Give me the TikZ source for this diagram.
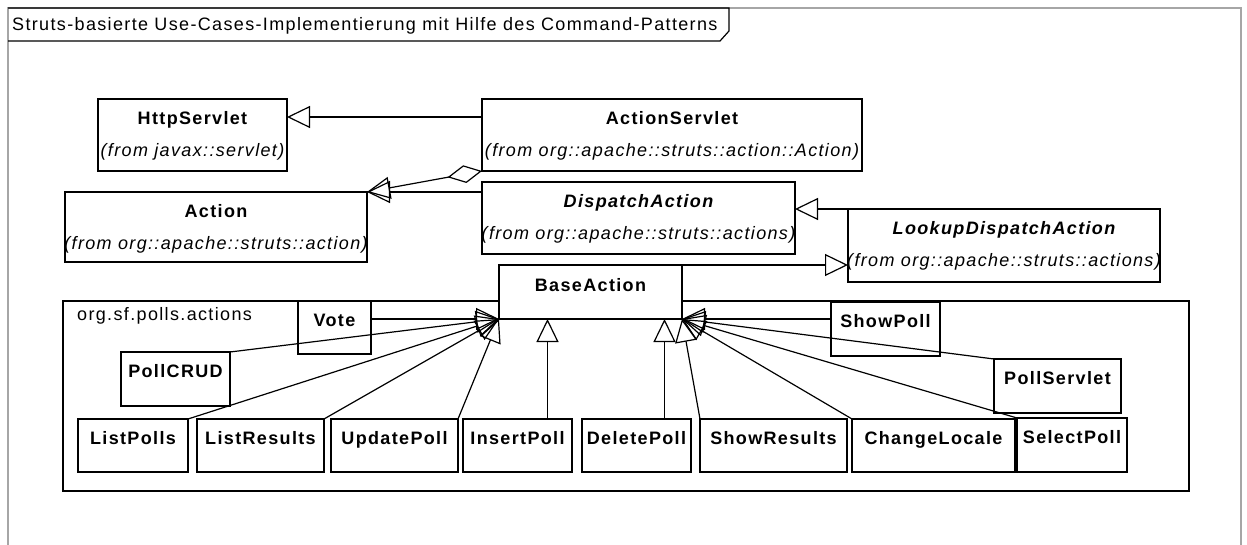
\documentclass[tikz,border=0pt]{standalone}
\usepackage{fontspec}
\setmainfont{Liberation Sans}[LetterSpace=7.5]
\usetikzlibrary{arrows.meta,calc}
\newcommand\umlbox[5]{\node[box, minimum width={(#4-#2)*1pt}, minimum height={(#5-#3)*1pt}] (#1) at ({(#2+#4)/2},{(#3+#5)/2}) {};}
\begin{document}
\begin{tikzpicture}[x=1pt,y=-1pt,
  font=\fontsize{18}{21}\selectfont,
  box/.style={draw, line width=1.2pt, fill=white, inner sep=0pt, outer sep=0pt},
  nm/.style={anchor=base, inner sep=0pt, font=\fontsize{18}{21}\selectfont\bfseries},
  anm/.style={anchor=base, inner sep=0pt, font=\fontsize{18}{21}\selectfont\bfseries\itshape},
  pnm/.style={anchor=base, inner sep=0pt},
  frm/.style={anchor=base, inner sep=0pt, font=\fontsize{18}{21}\selectfont\itshape},
  gen/.style={line width=1.2pt, -{Triangle[open,length=23pt,width=22pt,line width=1.2pt]}},
  agg/.style={line width=1.2pt, {Diamond[open,length=35pt,width=18pt,line width=1.2pt]}-{Triangle[open,length=23pt,width=22pt,line width=1.2pt]}}
]
\useasboundingbox (0,0) rectangle (1247,545);
% frame
\draw[gray!70, line width=1.2pt] (8,560) -- (8,8) -- (1241,8) -- (1241,560);
\draw[line width=1.2pt] (8,8) -- (729,8) -- (729,31) -- (720,41) -- (8,41);
\node[pnm, anchor=base west] (title) at (12,31) {Struts-basierte Use-Cases-Implementierung mit Hilfe des Command-Patterns};
% package
\draw[line width=1.2pt] (63,301) rectangle (1189,491);
\node[pnm, anchor=base west] (pkg) at (77,320) {org.sf.polls.actions};
% classes
\umlbox{HttpServlet}{98}{99}{287}{171}
\umlbox{ActionServlet}{482}{99}{862}{171}
\umlbox{Action}{65}{192}{367}{262}
\umlbox{DispatchAction}{482}{182}{795}{254}
\umlbox{Lookup}{848}{209}{1160}{282}
\umlbox{BaseAction}{499}{265}{682}{319}
\umlbox{Vote}{298}{301}{371}{354}
\umlbox{PollCRUD}{121}{352}{230}{406}
\umlbox{ShowPoll}{831}{302}{940}{356}
\umlbox{PollServlet}{994}{359}{1121}{413}
\umlbox{ListPolls}{78}{419}{188}{472}
\umlbox{ListResults}{197}{419}{324}{472}
\umlbox{UpdatePoll}{331}{419}{458}{472}
\umlbox{InsertPoll}{463}{419}{572}{472}
\umlbox{DeletePoll}{582}{419}{691}{472}
\umlbox{ShowResults}{700}{419}{847}{472}
\umlbox{ChangeLocale}{852}{419}{1015}{472}
\umlbox{SelectPoll}{1017}{418}{1127}{472}
% texts
\node[nm] (t1) at ($(HttpServlet.north)+(0,26)$) {HttpServlet};
\node[frm] (f1) at ($(HttpServlet.north)+(0,58)$) {(from javax::servlet)};
\node[nm] (t2) at ($(ActionServlet.north)+(0,26)$) {ActionServlet};
\node[frm] (f2) at ($(ActionServlet.north)+(0,58)$) {(from org::apache::struts::action::Action)};
\node[nm] (t3) at ($(Action.north)+(0,26)$) {Action};
\node[frm] (f3) at ($(Action.north)+(0,58)$) {(from org::apache::struts::action)};
\node[anm] (t4) at ($(DispatchAction.north)+(0,26)$) {DispatchAction};
\node[frm] (f4) at ($(DispatchAction.north)+(0,58)$) {(from org::apache::struts::actions)};
\node[anm] (t5) at ($(Lookup.north)+(0,26)$) {LookupDispatchAction};
\node[frm] (f5) at ($(Lookup.north)+(0,58)$) {(from org::apache::struts::actions)};
\node[nm] (t6) at ($(BaseAction.north)+(0,26)$) {BaseAction};
\foreach \n in {Vote,PollCRUD,ShowPoll,PollServlet,ListPolls,ListResults,UpdatePoll,InsertPoll,DeletePoll,ShowResults,ChangeLocale,SelectPoll}
  \node[nm] (\n-t) at ($(\n.north)+(0,25)$) {\n};
% connectors
\draw[gen] ($(ActionServlet.north west)+(0,18)$) -- ($(HttpServlet.north east)+(0,18)$);
\draw[agg] (ActionServlet.south west) -- (Action.north east);
\draw[gen] (DispatchAction.west |- Action.north east) -- (Action.north east);
\draw[gen] (Lookup.north west) -- (DispatchAction.east |- Lookup.north west);
\draw[gen] (BaseAction.north east) -- (Lookup.west |- BaseAction.north east);
\draw[gen] (Vote.east |- BaseAction.south west) -- (BaseAction.south west);
\draw[gen] (PollCRUD.north east) -- (BaseAction.south west);
\draw[gen] (ListPolls.north east) -- (BaseAction.south west);
\draw[gen] (ListResults.north east) -- (BaseAction.south west);
\draw[gen] (UpdatePoll.north east) -- (BaseAction.south west);
\draw[gen] ($(InsertPoll.north)+(30,0)$) -- ($(InsertPoll.north |- BaseAction.south)+(30,0)$);
\draw[gen] ($(DeletePoll.north)+(28,0)$) -- ($(DeletePoll.north |- BaseAction.south)+(28,0)$);
\draw[gen] (ShowPoll.west |- BaseAction.south east) -- (BaseAction.south east);
\draw[gen] (ShowResults.north west) -- (BaseAction.south east);
\draw[gen] (ChangeLocale.north west) -- (BaseAction.south east);
\draw[gen] (PollServlet.north west) -- (BaseAction.south east);
\draw[gen] (SelectPoll.north west) -- (BaseAction.south east);
\end{tikzpicture}
\end{document}
